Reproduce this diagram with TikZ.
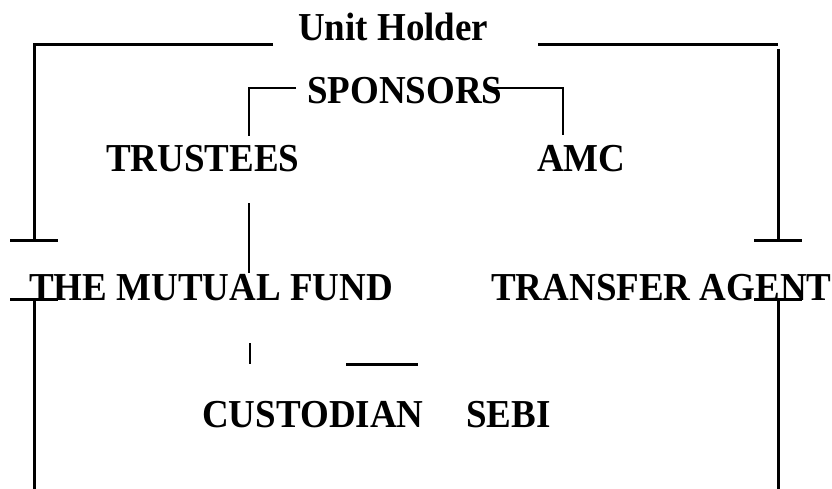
\documentclass[tikz,border=0pt]{standalone}
\usepackage{fontspec}
\setmainfont{Liberation Serif}
\newcommand{\tallbf}[1]{\scalebox{1}[1.07]{#1}}
\begin{document}
\begin{tikzpicture}[x=1pt,y=-1pt,
  lbl/.style={anchor=base west,inner sep=0pt,font=\fontsize{37}{40}\selectfont\bfseries},
  thick line/.style={line width=3pt},
  thin line/.style={line width=2pt}]
\useasboundingbox (0,0) rectangle (832,489);
% labels
\node[lbl] (uh) at (298,41) {\tallbf{Unit Holder}};
\node[lbl] (sp) at (307,104) {\tallbf{SPONSORS}};
\node[lbl] (tr) at (106,172) {\tallbf{TRUSTEES}};
\node[lbl] (amc) at (537,172) {\tallbf{AMC}};
\node[lbl] (mf) at (29,300) {\tallbf{THE MUTUAL FUND}};
\node[lbl] (ta) at (491,300) {\tallbf{TRANSFER AGENT}};
\node[lbl] (cu) at (202,427) {\tallbf{CUSTODIAN}};
\node[lbl] (se) at (466,427) {\tallbf{SEBI}};
% connector points
\coordinate (a1) at (273,45); \coordinate (a2) at (34,45); \coordinate (a3) at (34,240);
\coordinate (t1l) at (10,240); \coordinate (t1r) at (58,240);
\coordinate (b1) at (538,45); \coordinate (b2) at (778,45); \coordinate (b3) at (778,49); \coordinate (b4) at (778,240);
\coordinate (t2l) at (754,240); \coordinate (t2r) at (802,240);
\coordinate (t3l) at (10,299); \coordinate (t3r) at (58,299);
\coordinate (c1) at (34,299); \coordinate (c2) at (34,489);
\coordinate (t4l) at (754,299); \coordinate (t4r) at (802,299);
\coordinate (d1) at (778,299); \coordinate (d2) at (778,489);
\coordinate (s1) at (296,88); \coordinate (s2) at (249,88); \coordinate (s3) at (249,136);
\coordinate (s4) at (493,88); \coordinate (s5) at (563,88); \coordinate (s6) at (563,135);
\coordinate (v1) at (249,203); \coordinate (v2) at (249,273);
\coordinate (v3) at (250,343); \coordinate (v4) at (250,364);
\coordinate (h1) at (346,364); \coordinate (h2) at (418,364);
% connectors
\draw[thick line] (a1) -- (a2) -- (a3);
\draw[thick line] (t1l) -- (t1r);
\draw[thick line] (b1) -- (b2);
\draw[thick line] (b3) -- (b4);
\draw[thick line] (t2l) -- (t2r);
\draw[thick line] (t3l) -- (t3r);
\draw[thick line] (c1) -- (c2);
\draw[thick line] (t4l) -- (t4r);
\draw[thick line] (d1) -- (d2);
\draw[thin line] (s1) -- (s2) -- (s3);
\draw[thin line] (s4) -- (s5) -- (s6);
\draw[thin line] (v1) -- (v2);
\draw[thin line] (v3) -- (v4);
\draw[thick line] (h1) -- (h2);
\end{tikzpicture}
\end{document}
